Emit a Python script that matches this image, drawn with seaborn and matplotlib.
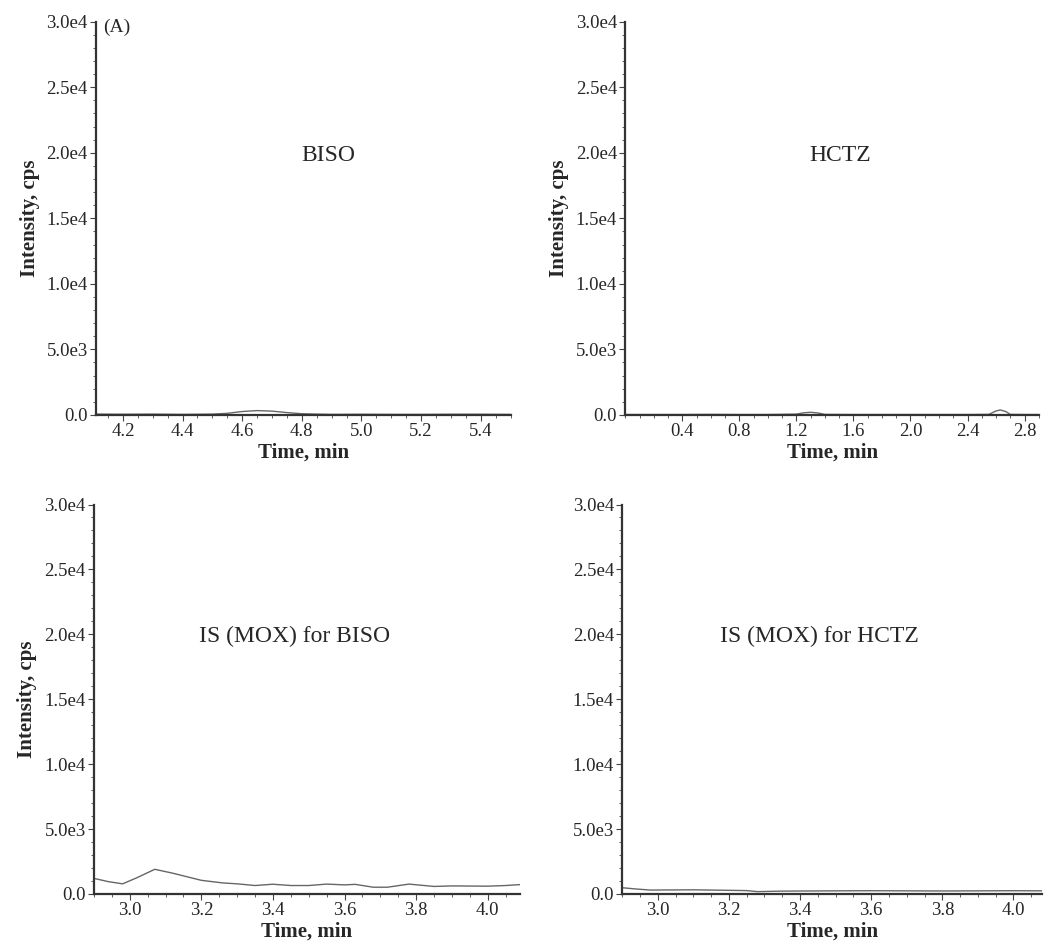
import matplotlib
matplotlib.use("Agg")
import matplotlib.pyplot as plt
import seaborn as sns
import numpy as np
import pandas as pd
from matplotlib.ticker import MultipleLocator

# ---- data ----
biso_t = [4.11, 4.2, 4.3, 4.4, 4.5, 4.55, 4.6, 4.65, 4.7, 4.75, 4.8, 4.85, 4.9, 5.0, 5.1, 5.2, 5.3, 5.4, 5.5]
biso_i = [60, 50, 60, 40, 60, 120, 260, 330, 290, 180, 90, 60, 40, 50, 40, 40, 50, 50, 40]

hctz_t = [0.0, 0.2, 0.4, 0.6, 0.8, 1.0, 1.2, 1.25, 1.3, 1.35, 1.4, 1.6, 1.8, 2.0, 2.2, 2.4, 2.55, 2.6, 2.63, 2.67, 2.7, 2.8, 2.9]
hctz_i = [30, 30, 30, 40, 30, 30, 60, 160, 200, 150, 40, 30, 30, 30, 30, 30, 40, 300, 380, 250, 40, 30, 30]

isb_t = [2.9, 2.94, 2.98, 3.02, 3.07, 3.12, 3.2, 3.26, 3.3, 3.35, 3.4, 3.45, 3.5, 3.55, 3.6, 3.63, 3.68, 3.72, 3.78, 3.85, 3.9, 4.0, 4.05, 4.09]
isb_i = [1200, 950, 780, 1250, 1900, 1600, 1050, 850, 780, 650, 750, 650, 650, 760, 700, 740, 520, 520, 760, 580, 620, 600, 650, 720]

ish_t = [2.9, 2.94, 2.98, 3.1, 3.2, 3.25, 3.28, 3.35, 3.5, 3.6, 3.8, 4.0, 4.08]
ish_i = [480, 380, 300, 320, 280, 260, 180, 220, 240, 250, 230, 250, 240]

y_ticks = [0, 5000, 10000, 15000, 20000, 25000, 30000]
y_ticklabels = ["0.0", "5.0e3", "1.0e4", "1.5e4", "2.0e4", "2.5e4", "3.0e4"]

titles = ["BISO", "HCTZ", "IS (MOX) for BISO", "IS (MOX) for HCTZ"]

# ---- style ----
sns.set_style("ticks")
plt.rcParams['font.family'] = ['Liberation Serif', 'DejaVu Serif']
plt.rcParams['xtick.direction'] = 'out'
plt.rcParams['ytick.direction'] = 'out'

fig = plt.figure(figsize=(10.44, 9.43), dpi=100)

panels = [
    dict(t=biso_t, i=biso_i, pos=[0.092, 0.560, 0.397, 0.417], xlim=(4.11, 5.50),
         xmaj=np.arange(4.2, 5.41, 0.2), xmin=0.05, ylab=True, text=(0.56, 0.66)),
    dict(t=hctz_t, i=hctz_i, pos=[0.599, 0.560, 0.396, 0.417], xlim=(0.0, 2.9),
         xmaj=np.arange(0.4, 2.81, 0.4), xmin=0.1, ylab=True, text=(0.52, 0.66)),
    dict(t=isb_t, i=isb_i, pos=[0.090, 0.052, 0.408, 0.413], xlim=(2.9, 4.09),
         xmaj=np.arange(3.0, 4.01, 0.2), xmin=0.05, ylab=True, text=(0.47, 0.66)),
    dict(t=ish_t, i=ish_i, pos=[0.596, 0.052, 0.402, 0.413], xlim=(2.9, 4.08),
         xmaj=np.arange(3.0, 4.01, 0.2), xmin=0.05, ylab=False, text=(0.47, 0.66)),
]

for k, p in enumerate(panels):
    ax = fig.add_axes(p['pos'])
    df = pd.DataFrame({"Time": p['t'], "Intensity": p['i']})
    sns.lineplot(data=df, x="Time", y="Intensity", ax=ax, color="#666666", linewidth=1.0)
    ax.set_xlim(*p['xlim'])
    ax.set_ylim(0, 30000)
    ax.set_yticks(y_ticks)
    ax.set_yticklabels(y_ticklabels)
    ax.yaxis.set_minor_locator(MultipleLocator(1000))
    ax.set_xticks(p['xmaj'])
    ax.set_xticklabels([f"{v:.1f}" for v in p['xmaj']])
    ax.xaxis.set_minor_locator(MultipleLocator(p['xmin']))
    ax.tick_params(axis='both', which='major', labelsize=13.5, length=4, width=0.8, color="#444444", pad=2)
    ax.tick_params(axis='both', which='minor', length=2, width=0.6, color="#444444")
    for s in ['top', 'right']:
        ax.spines[s].set_visible(False)
    for s in ['left', 'bottom']:
        ax.spines[s].set_linewidth(1.6)
        ax.spines[s].set_color("#333333")
    ax.set_xlabel("Time, min", fontsize=15, fontweight='bold', labelpad=2)
    if p['ylab']:
        ax.set_ylabel("Intensity, cps", fontsize=15, fontweight='bold', labelpad=5)
    else:
        ax.set_ylabel("")
    ax.text(p['text'][0], p['text'][1], titles[k], transform=ax.transAxes,
            fontsize=17, ha='center', va='center')
    if k == 0:
        ax.text(0.018, 0.985, "(A)", transform=ax.transAxes, fontsize=14, ha='left', va='center')

fig.savefig("out.png", dpi=100)
